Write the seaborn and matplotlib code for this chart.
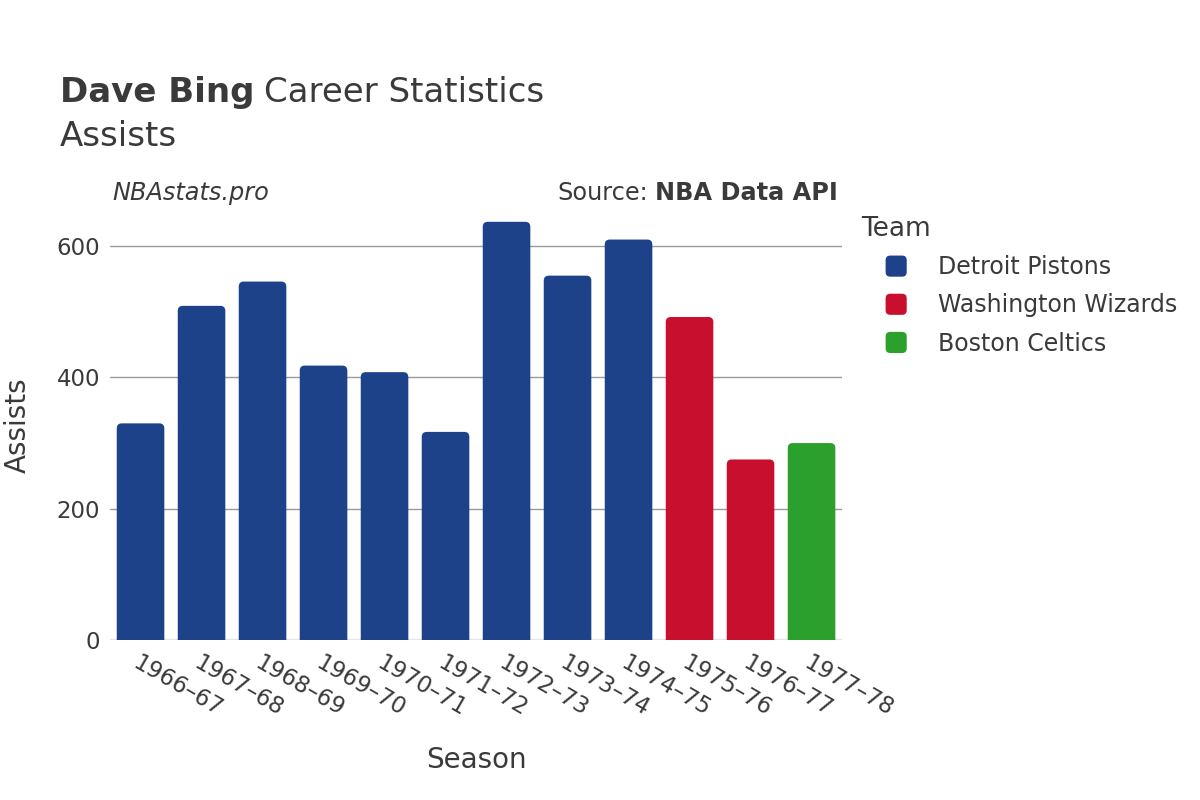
import numpy as np
import pandas as pd
import matplotlib
matplotlib.use('Agg')
import matplotlib.pyplot as plt
from matplotlib.patches import FancyBboxPatch, Patch
from matplotlib.legend_handler import HandlerPatch
import seaborn as sns

# Dave Bing, assists per season
seasons = ['1966–67', '1967–68', '1968–69', '1969–70', '1970–71', '1971–72',
           '1972–73', '1973–74', '1974–75', '1975–76', '1976–77', '1977–78']
assists = [330, 509, 546, 418, 408, 317, 637, 555, 610, 492, 275, 300]
teams = ['Detroit Pistons'] * 9 + ['Washington Wizards'] * 2 + ['Boston Celtics']

team_order = ['Detroit Pistons', 'Washington Wizards', 'Boston Celtics']
team_colors = {'Detroit Pistons': '#1D428A',
               'Washington Wizards': '#C8102E',
               'Boston Celtics': '#2CA02C'}

df = pd.DataFrame({'season': seasons, 'assists': assists, 'team': teams})


class RoundedHandler(HandlerPatch):
    def create_artists(self, legend, orig_handle, xdescent, ydescent,
                       width, height, fontsize, trans):
        side = min(width, height)
        box = FancyBboxPatch((-xdescent, -ydescent + (height - side) / 2), side, side,
                             boxstyle=f'round,pad=0,rounding_size={side * 0.22}',
                             facecolor=orig_handle.get_facecolor(),
                             edgecolor='none', transform=trans)
        return [box]


sns.set_style('white')
plt.rcParams['font.family'] = 'sans-serif'
plt.rcParams['font.sans-serif'] = ['DejaVu Sans']
text_col = '#3a3a3a'

fig = plt.figure(figsize=(12, 8), dpi=100)
ax = fig.add_axes([0.0917, 0.2, 0.61, 0.5375])

sns.barplot(data=df, x='season', y='assists', hue='team', hue_order=team_order,
            palette=team_colors, dodge=False, width=0.78, saturation=1,
            order=seasons, legend=False, ax=ax)

ymax = 655
ax.set_ylim(0, ymax)
ax.set_xlim(-0.5, len(seasons) - 0.5)

# swap plain bars for ones with rounded tops
px_x = 0.61 * 1200 / len(seasons)
px_y = 0.5375 * 800 / ymax
r = 5 / px_x
for p in list(ax.patches):
    h = p.get_height()
    if not np.isfinite(h) or h <= 0:
        continue
    x0, w = p.get_x(), p.get_width()
    fc = p.get_facecolor()
    p.remove()
    ext = 10
    bar = FancyBboxPatch((x0, -ext), w, h + ext,
                         boxstyle=f'round,pad=0,rounding_size={r}',
                         mutation_aspect=(5 / px_y) / r,
                         facecolor=fc, edgecolor='none', zorder=2)
    ax.add_patch(bar)

ax.set_yticks([0, 200, 400, 600])
ax.yaxis.grid(True, color='#9a9a9a', linewidth=1)
ax.set_axisbelow(True)
ax.axhline(0, color='#e6e6e6', linewidth=2.5, zorder=1)
sns.despine(ax=ax, left=True, bottom=True)
ax.tick_params(axis='both', labelsize=16.5, colors=text_col)
ax.tick_params(axis='y', length=5, width=1, color='#9a9a9a', pad=2)
ax.tick_params(axis='x', length=0, pad=8)

for lab in ax.get_xticklabels():
    lab.set_rotation(-30)
    lab.set_ha('left')
    lab.set_va('top')
    lab.set_rotation_mode('anchor')

ax.set_xlabel('Season', fontsize=20, color=text_col, labelpad=18)
ax.set_ylabel('Assists', fontsize=20, color=text_col, labelpad=18)

# titles and credits
t1 = fig.text(0.05, 0.873, 'Dave Bing', fontsize=24.5, color=text_col, fontweight='bold')
fig.canvas.draw()
bb = t1.get_window_extent()
fig.text(bb.x1 / 1200 + 0.008, 0.873, 'Career Statistics', fontsize=24.5, color=text_col)
fig.text(0.05, 0.817, 'Assists', fontsize=24.5, color=text_col)

fig.text(0.094, 0.7495, 'NBAstats.pro', fontsize=17.3, color=text_col, style='italic')
src = fig.text(0.698, 0.7495, 'NBA Data API', fontsize=17.3, color=text_col,
               fontweight='bold', ha='right')
fig.canvas.draw()
sb = src.get_window_extent()
fig.text(sb.x0 / 1200 - 0.006, 0.7495, 'Source:', fontsize=17.3, color=text_col, ha='right')

# legend
fig.text(0.7175, 0.705, 'Team', fontsize=19, color=text_col)
handles = [Patch(facecolor=team_colors[t], label=t) for t in team_order]
leg = fig.legend(handles=handles, loc='upper left', bbox_to_anchor=(0.738, 0.681),
                 frameon=False, fontsize=17, handlelength=1.0, handleheight=1.0,
                 handletextpad=1.2, labelspacing=0.6, borderpad=0, borderaxespad=0,
                 handler_map={Patch: RoundedHandler()})
for t in leg.get_texts():
    t.set_color(text_col)

fig.savefig('out.png', dpi=100)
